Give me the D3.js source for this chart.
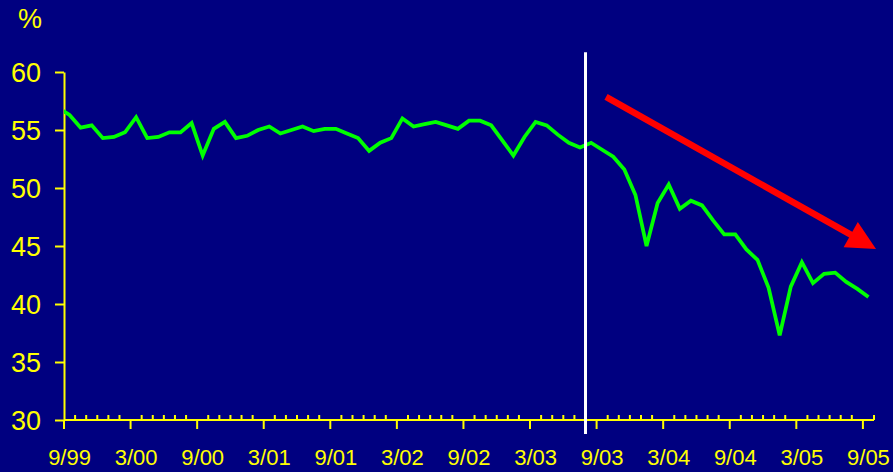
<!DOCTYPE html>
<html>
<head>
<meta charset="utf-8">
<script src="https://cdn.jsdelivr.net/npm/d3@7"></script>
<style>
  html, body { margin: 0; padding: 0; background: #000080; }
  svg { display: block; }
</style>
</head>
<body>
<svg id="chart" width="893" height="472"></svg>
<script>
// Monthly share (%) from 9/99 to 9/05, one value per month
const values = [
  56.3, 55.2, 55.4, 54.3, 54.4, 54.8, 56.1, 54.3, 54.4, 54.8, 54.8, 55.6,
  52.8, 55.1, 55.7, 54.3, 54.5, 55.0, 55.3, 54.7, 55.0, 55.3, 54.9, 55.1,
  55.1, 54.7, 54.3, 53.2, 53.9, 54.3, 56.0, 55.3, 55.5, 55.7, 55.4, 55.1,
  55.8, 55.8, 55.4, 54.1, 52.8, 54.4, 55.7, 55.4, 54.6, 53.9, 53.5, 53.9,
  53.3, 52.7, 51.6, 49.4, 45.0, 48.7, 50.3, 48.2, 48.9, 48.5, 47.2, 46.0,
  46.0, 44.7, 43.8, 41.4, 37.3, 41.5, 43.6, 41.8, 42.6, 42.7, 41.9, 41.3,
  40.6
];
// Value of the month before the first category (the line enters from the axis)
const priorValue = 56.9;

const tickLabels = ["9/99", "3/00", "9/00", "3/01", "9/01", "3/02", "9/02",
                    "3/03", "9/03", "3/04", "9/04", "3/05", "9/05"];
const yTicks = [30, 35, 40, 45, 50, 55, 60];

// Month categories 9/99 .. 9/05
const fmt = d3.timeFormat("%-m/%y");
const categories = d3.timeMonth.range(new Date(1999, 8, 1), new Date(2005, 9, 1)).map(fmt);

// Boundary index where the vertical marker sits (between 7/03 and 8/03)
const markerBoundary = categories.indexOf("8/03");
// Trend arrow, in category units and %
const arrowFrom = { x: 48.85, y: 57.85 };
const arrowTo   = { x: 73.18, y: 44.75 };

const svg = d3.select("#chart");
const W = 893, H = 472;
const plot = { left: 64, right: 874, top: 72, bottom: 420 };

svg.append("rect").attr("width", W).attr("height", H).attr("fill", "#000080");

const x = d3.scaleLinear().domain([0, categories.length]).range([plot.left, plot.right]);
const y = d3.scaleLinear().domain([30, 60]).range([plot.bottom, plot.top]);

const yellow = "#ffff00";
const font = "'Liberation Sans', Arial, Helvetica, sans-serif";

// Y axis
const yAxis = svg.append("g").attr("transform", `translate(${plot.left},0)`)
  .call(d3.axisLeft(y).tickValues(yTicks).tickSize(9).tickPadding(14).tickSizeOuter(0));
yAxis.select(".domain").attr("stroke", yellow).attr("stroke-width", 2);
yAxis.selectAll(".tick line").attr("stroke", yellow).attr("stroke-width", 2);
yAxis.selectAll(".tick text").attr("fill", yellow).attr("font-family", font)
  .attr("font-size", 27).attr("dy", "0.36em");

// "%" unit label
svg.append("text").attr("x", 30).attr("y", 28).attr("text-anchor", "middle")
  .attr("fill", yellow).attr("font-family", font).attr("font-size", 27).text("%");

// X axis: baseline, monthly minor ticks (inside), half-yearly major ticks (outside)
const xg = svg.append("g");
xg.append("line").attr("x1", x(0)).attr("x2", x(categories.length))
  .attr("y1", plot.bottom).attr("y2", plot.bottom)
  .attr("stroke", yellow).attr("stroke-width", 2);

const majorIdx = tickLabels.map(l => categories.indexOf(l));
const boundaries = d3.range(0, categories.length + 1);
xg.selectAll("line.minor").data(boundaries.filter(b => !majorIdx.includes(b)))
  .join("line").attr("class", "minor")
  .attr("x1", d => x(d)).attr("x2", d => x(d))
  .attr("y1", plot.bottom).attr("y2", plot.bottom - 5)
  .attr("stroke", yellow).attr("stroke-width", 2);
xg.selectAll("line.major").data(majorIdx)
  .join("line").attr("class", "major")
  .attr("x1", d => x(d)).attr("x2", d => x(d))
  .attr("y1", plot.bottom).attr("y2", plot.bottom + 9)
  .attr("stroke", yellow).attr("stroke-width", 2);
xg.selectAll("text").data(tickLabels)
  .join("text")
  .attr("x", l => x(categories.indexOf(l) + 0.5))
  .attr("y", 465)
  .attr("text-anchor", "middle")
  .attr("fill", yellow).attr("font-family", font).attr("font-size", 22)
  .text(d => d);

// Clip so the line starts at the value axis
svg.append("clipPath").attr("id", "plotClip")
  .append("rect").attr("x", plot.left).attr("y", 0)
  .attr("width", plot.right - plot.left).attr("height", H);

const series = [{ i: -1, v: priorValue }].concat(values.map((v, i) => ({ i, v })));
const line = d3.line().x(d => x(d.i + 0.5)).y(d => y(d.v));
svg.append("path").datum(series)
  .attr("clip-path", "url(#plotClip)")
  .attr("d", line)
  .attr("fill", "none").attr("stroke", "#00ff00")
  .attr("stroke-width", 3.75).attr("stroke-linejoin", "miter");

// Vertical marker
svg.append("line")
  .attr("x1", x(markerBoundary)).attr("x2", x(markerBoundary))
  .attr("y1", y(61.7)).attr("y2", plot.bottom + 14)
  .attr("stroke", "#ffffff").attr("stroke-width", 3);

// Trend arrow
const ax0 = x(arrowFrom.x), ay0 = y(arrowFrom.y);
const ax1 = x(arrowTo.x),   ay1 = y(arrowTo.y);
const ang = Math.atan2(ay1 - ay0, ax1 - ax0);
const headLen = 29, headHalf = 14.5;
const bx = ax1 - headLen * Math.cos(ang), by = ay1 - headLen * Math.sin(ang);
svg.append("line").attr("x1", ax0).attr("y1", ay0)
  .attr("x2", bx + Math.cos(ang)).attr("y2", by + Math.sin(ang))
  .attr("stroke", "#ff0000").attr("stroke-width", 6.5);
const px = -Math.sin(ang), py = Math.cos(ang);
svg.append("path")
  .attr("d", `M${ax1},${ay1}L${bx + px * headHalf},${by + py * headHalf}L${bx - px * headHalf},${by - py * headHalf}Z`)
  .attr("fill", "#ff0000");
</script>
</body>
</html>
